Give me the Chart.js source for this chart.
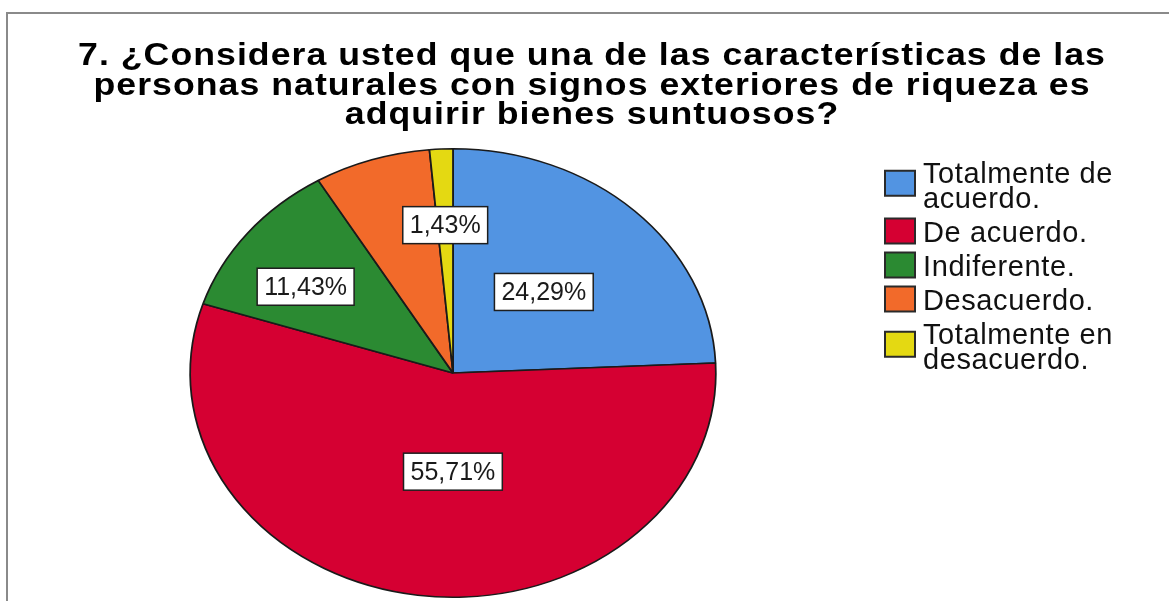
<!DOCTYPE html>
<html>
<head>
<meta charset="utf-8">
<script src="https://cdn.jsdelivr.net/npm/chart.js@4.4.1/dist/chart.umd.min.js"></script>
<style>
  html, body { margin: 0; padding: 0; background: #ffffff; overflow: hidden; }
  canvas { display: block; }
</style>
</head>
<body>
<canvas id="chart" width="1169" height="601"></canvas>
<script>
// ---- data -------------------------------------------------------------
const titleLines = [
  '7. ¿Considera usted que una de las características de las',
  'personas naturales con signos exteriores de riqueza es',
  'adquirir bienes suntuosos?'
];
const categories = [
  'Totalmente de acuerdo.',
  'De acuerdo.',
  'Indiferente.',
  'Desacuerdo.',
  'Totalmente en desacuerdo.'
];
const legendLines = [
  ['Totalmente de', 'acuerdo.'],
  ['De acuerdo.'],
  ['Indiferente.'],
  ['Desacuerdo.'],
  ['Totalmente en', 'desacuerdo.']
];
const percentages = [24.29, 55.71, 11.43, 7.14, 1.43];
const showValueLabel = [true, true, true, false, true];

// ---- styling ----------------------------------------------------------
const sliceColors = ['#5294e2', '#d50032', '#2b8a32', '#f26a2a', '#e4d912'];
const labelRadius = [0.5, 0.44, 0.68, 0.6, 0.66];      // fraction of radius for value boxes
const labelAngleShift = [0, -0.134, -0.072, 0, 0];     // small nudges (radians)
const STRETCH_X = 1.172;                                // pie is drawn as an ellipse
const FONT = "'Liberation Sans', Arial, Helvetica, sans-serif";

// Horizontal stretch around the pie centre turns the circle into an ellipse.
const ellipsePlugin = {
  id: 'ellipsePie',
  beforeDatasetsDraw(chart) {
    const arc = chart.getDatasetMeta(0).data[0];
    const ctx = chart.ctx;
    ctx.save();
    ctx.translate(arc.x, arc.y);
    ctx.scale(STRETCH_X, 1);
    ctx.translate(-arc.x, -arc.y);
  },
  afterDatasetsDraw(chart) {
    chart.ctx.restore();
  }
};

// Outer frame, title, value boxes and legend.
const decorPlugin = {
  id: 'decor',
  afterDraw(chart) {
    const ctx = chart.ctx;
    ctx.save();

    // frame
    ctx.strokeStyle = '#8a8a8a';
    ctx.lineWidth = 2;
    ctx.strokeRect(7, 13, 1400, 900);

    // title (slightly widened bold type)
    const titleScale = 1.15;
    ctx.fillStyle = '#000000';
    ctx.font = 'bold 31px ' + FONT;
    ctx.textAlign = 'center';
    ctx.textBaseline = 'alphabetic';
    ctx.letterSpacing = '0.9px';
    titleLines.forEach((line, i) => {
      ctx.save();
      ctx.translate(592, 65 + i * 29.5);
      ctx.scale(titleScale, 1);
      ctx.fillText(line, 0, 0);
      ctx.restore();
    });
    ctx.letterSpacing = '0px';

    // value boxes
    const meta = chart.getDatasetMeta(0);
    ctx.font = '25px ' + FONT;
    ctx.textAlign = 'center';
    ctx.textBaseline = 'middle';
    meta.data.forEach((arc, i) => {
      if (!showValueLabel[i]) return;
      const p = arc.getProps(['x', 'y', 'startAngle', 'endAngle', 'outerRadius'], true);
      const mid = (p.startAngle + p.endAngle) / 2 + labelAngleShift[i];
      const k = labelRadius[i];
      const lx = p.x + STRETCH_X * k * p.outerRadius * Math.cos(mid);
      const ly = p.y + k * p.outerRadius * Math.sin(mid);
      const txt = percentages[i].toFixed(2).replace('.', ',') + '%';
      const tw = ctx.measureText(txt).width;
      const bw = tw + 14, bh = 37;
      ctx.fillStyle = '#ffffff';
      ctx.fillRect(lx - bw / 2, ly - bh / 2, bw, bh);
      ctx.strokeStyle = '#1e1e1e';
      ctx.lineWidth = 1.5;
      ctx.strokeRect(lx - bw / 2, ly - bh / 2, bw, bh);
      ctx.fillStyle = '#1a1a1a';
      ctx.fillText(txt, lx, ly + 1);
    });

    // legend
    const lineH = 25, step = 34;
    const swX = 885, swW = 30, swH = 25, textX = 923;
    let base = 183;
    ctx.font = '29px ' + FONT;
    ctx.letterSpacing = '0.6px';
    ctx.textAlign = 'left';
    ctx.textBaseline = 'alphabetic';
    legendLines.forEach((lines, i) => {
      const n = lines.length;
      const swCenter = base - 11 + (n - 1) * lineH * 0.45;
      ctx.fillStyle = sliceColors[i];
      ctx.fillRect(swX, swCenter - swH / 2, swW, swH);
      ctx.strokeStyle = '#2a2a2a';
      ctx.lineWidth = 2;
      ctx.strokeRect(swX, swCenter - swH / 2, swW, swH);
      ctx.fillStyle = '#111111';
      lines.forEach((t, j) => ctx.fillText(t, textX, base + j * lineH));
      base += (n - 1) * lineH + step;
    });
    ctx.letterSpacing = '0px';

    ctx.restore();
  }
};

new Chart(document.getElementById('chart'), {
  type: 'pie',
  data: {
    labels: categories,
    datasets: [{
      data: percentages,
      backgroundColor: sliceColors,
      borderColor: '#1a1a1a',
      borderWidth: 1.5,
      hoverOffset: 0,
      clip: false
    }]
  },
  options: {
    responsive: false,
    animation: false,
    events: [],
    layout: { padding: { top: 148, bottom: 3, left: 228, right: 491 } },
    plugins: {
      legend: { display: false },
      title: { display: false },
      tooltip: { enabled: false }
    }
  },
  plugins: [ellipsePlugin, decorPlugin]
});
</script>
</body>
</html>
